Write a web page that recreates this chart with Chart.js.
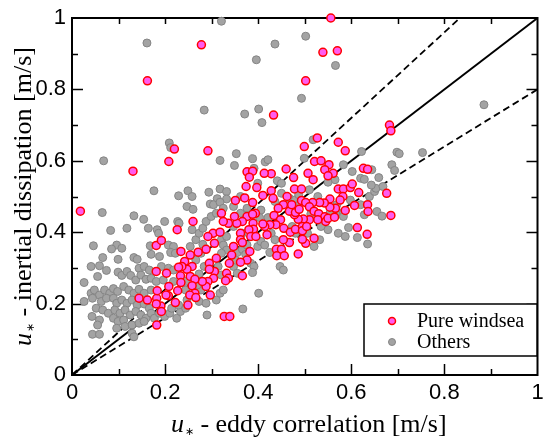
<!DOCTYPE html>
<html>
<head>
<meta charset="utf-8">
<script src="https://cdn.jsdelivr.net/npm/chart.js@4/dist/chart.umd.min.js"></script>
<style>
  html, body { margin: 0; padding: 0; background: #fff; }
  canvas { display: block; }
</style>
</head>
<body>
<canvas id="Chart" width="543" height="443"></canvas>
<script>
// pure windsea cases: eddy correlation (x) vs inertial dissipation (y)
const windseaX = [0.556,0.278,0.539,0.570,0.162,0.502,0.433,0.682,0.685,0.527,0.572,0.499,0.220,0.292,0.587,0.208,0.131,0.018,0.685,0.676,
  0.521,0.535,0.552,0.543,0.561,0.550,0.507,0.518,0.476,0.460,0.428,0.413,0.376,0.388,0.381,0.397,0.374,0.428,0.410,0.432,
  0.462,0.478,0.493,0.493,0.572,0.583,0.598,0.602,0.554,0.582,0.616,0.626,0.635,0.607,0.635,0.636,0.587,0.566,0.554,0.542,
  0.532,0.517,0.502,0.510,0.520,0.530,0.543,0.545,0.528,0.510,0.497,0.486,0.478,0.467,0.454,0.443,0.434,0.448,0.438,0.425,
  0.414,0.410,0.419,0.455,0.469,0.480,0.495,0.495,0.504,0.502,0.495,0.467,0.454,0.439,0.450,0.440,0.456,0.486,0.520,0.550,
  0.613,0.634,0.388,0.394,0.376,0.366,0.354,0.349,0.336,0.325,0.321,0.303,0.351,0.371,0.388,0.389,0.390,0.380,0.384,0.395,
  0.362,0.362,0.366,0.382,0.376,0.362,0.366,0.347,0.343,0.338,0.332,0.336,0.330,0.310,0.306,0.295,0.295,0.304,0.292,0.288,
  0.280,0.297,0.292,0.288,0.306,0.318,0.327,0.339,0.271,0.258,0.254,0.242,0.247,0.236,0.229,0.233,0.234,0.254,0.264,0.258,
  0.264,0.253,0.266,0.249,0.227,0.222,0.208,0.207,0.203,0.202,0.191,0.192,0.182,0.183,0.181,0.182,0.181,0.181,0.192,0.162,
  0.144,0.226,0.260,0.234,0.576,0.564,0.472,0.480,0.488];
const windseaY = [1.000,0.925,0.904,0.908,0.824,0.824,0.728,0.700,0.684,0.664,0.652,0.640,0.633,0.628,0.628,0.598,0.571,0.459,0.447,0.509,
  0.598,0.600,0.589,0.575,0.565,0.558,0.565,0.547,0.553,0.577,0.564,0.565,0.569,0.571,0.554,0.525,0.528,0.516,0.503,0.495,
  0.500,0.521,0.521,0.489,0.521,0.521,0.525,0.535,0.493,0.500,0.511,0.579,0.576,0.475,0.477,0.458,0.461,0.467,0.470,0.482,
  0.483,0.483,0.483,0.471,0.459,0.452,0.443,0.430,0.435,0.435,0.437,0.436,0.449,0.459,0.477,0.467,0.447,0.435,0.421,0.421,
  0.416,0.423,0.393,0.411,0.400,0.408,0.416,0.404,0.416,0.369,0.380,0.371,0.379,0.352,0.352,0.334,0.334,0.339,0.383,0.439,
  0.413,0.394,0.483,0.453,0.444,0.430,0.425,0.444,0.425,0.430,0.453,0.397,0.489,0.496,0.450,0.425,0.408,0.407,0.388,0.388,
  0.397,0.379,0.371,0.346,0.322,0.316,0.278,0.360,0.336,0.313,0.285,0.271,0.264,0.327,0.290,0.313,0.296,0.271,0.262,0.248,
  0.262,0.224,0.388,0.352,0.369,0.400,0.164,0.164,0.344,0.304,0.336,0.318,0.296,0.304,0.302,0.278,0.259,0.276,0.268,0.250,
  0.229,0.224,0.217,0.196,0.236,0.203,0.248,0.222,0.285,0.224,0.193,0.178,0.215,0.236,0.199,0.140,0.290,0.363,0.377,0.210,
  0.215,0.407,0.430,0.346,0.490,0.442,0.477,0.455,0.464];

// other cases
const othersX = [0.321,0.161,0.436,0.502,0.396,0.566,0.493,0.885,0.284,0.401,0.371,0.408,0.209,0.212,0.518,0.622,0.698,0.703,0.753,0.353,
  0.068,0.318,0.349,0.388,0.415,0.421,0.391,0.499,0.602,0.687,0.693,0.644,0.659,0.620,0.628,0.583,0.565,0.550,0.399,0.441,
  0.450,0.294,0.318,0.332,0.332,0.312,0.297,0.304,0.318,0.347,0.362,0.249,0.258,0.229,0.176,0.247,0.260,0.227,0.230,0.199,
  0.133,0.154,0.065,0.118,0.164,0.183,0.186,0.083,0.046,0.096,0.107,0.085,0.168,0.207,0.218,0.212,0.066,0.099,0.133,0.140,
  0.170,0.188,0.222,0.041,0.059,0.074,0.055,0.144,0.155,0.166,0.192,0.207,0.218,0.026,0.099,0.107,0.118,0.126,0.137,0.148,
  0.159,0.170,0.181,0.196,0.218,0.041,0.048,0.059,0.070,0.081,0.089,0.098,0.111,0.122,0.133,0.144,0.155,0.170,0.044,0.063,
  0.074,0.089,0.096,0.107,0.118,0.129,0.140,0.155,0.166,0.026,0.052,0.066,0.078,0.092,0.103,0.114,0.125,0.137,0.148,0.159,
  0.170,0.043,0.059,0.055,0.089,0.099,0.111,0.096,0.114,0.129,0.144,0.044,0.059,0.129,0.133,0.155,0.177,0.188,0.199,0.210,
  0.225,0.214,0.233,0.244,0.229,0.247,0.273,0.290,0.288,0.310,0.318,0.325,0.277,0.244,0.269,0.244,0.273,0.284,0.266,0.277,
  0.254,0.266,0.281,0.273,0.258,0.281,0.288,0.299,0.310,0.325,0.321,0.332,0.325,0.332,0.321,0.314,0.321,0.347,0.355,0.351,
  0.355,0.366,0.373,0.384,0.391,0.388,0.399,0.406,0.376,0.366,0.376,0.362,0.406,0.421,0.403,0.428,0.436,0.414,0.425,0.447,
  0.454,0.401,0.367,0.347,0.436,0.450,0.467,0.480,0.487,0.510,0.528,0.487,0.513,0.535,0.520,0.532,0.480,0.506,0.473,0.550,
  0.554,0.576,0.572,0.587,0.613,0.635,0.598,0.620,0.583,0.594,0.639,0.650,0.653,0.643,0.668,0.655,0.666,0.628,0.569,0.583];
const othersY = [0.991,0.930,0.927,0.949,0.883,0.867,0.775,0.757,0.742,0.745,0.731,0.707,0.650,0.637,0.659,0.626,0.624,0.620,0.623,0.620,
  0.600,0.601,0.587,0.606,0.597,0.603,0.579,0.607,0.570,0.589,0.573,0.575,0.553,0.551,0.548,0.589,0.547,0.540,0.537,0.544,
  0.537,0.512,0.521,0.514,0.493,0.494,0.479,0.477,0.484,0.472,0.500,0.516,0.500,0.502,0.516,0.472,0.464,0.430,0.425,0.430,
  0.446,0.436,0.455,0.411,0.411,0.407,0.397,0.405,0.362,0.364,0.355,0.353,0.362,0.364,0.360,0.343,0.329,0.324,0.329,0.324,
  0.338,0.332,0.341,0.304,0.306,0.293,0.276,0.299,0.304,0.294,0.304,0.299,0.294,0.259,0.288,0.279,0.290,0.279,0.266,0.280,
  0.268,0.271,0.262,0.266,0.262,0.229,0.238,0.224,0.238,0.229,0.242,0.234,0.248,0.238,0.229,0.240,0.229,0.238,0.215,0.206,
  0.215,0.215,0.201,0.210,0.201,0.210,0.196,0.199,0.187,0.206,0.187,0.182,0.173,0.182,0.173,0.182,0.168,0.178,0.168,0.159,
  0.173,0.164,0.154,0.140,0.159,0.150,0.154,0.131,0.136,0.140,0.145,0.114,0.114,0.117,0.107,0.150,0.159,0.173,0.164,0.173,
  0.159,0.187,0.178,0.187,0.196,0.210,0.206,0.168,0.201,0.210,0.229,0.238,0.238,0.238,0.252,0.262,0.283,0.304,0.322,0.341,
  0.360,0.379,0.366,0.397,0.407,0.411,0.430,0.444,0.453,0.467,0.379,0.388,0.364,0.350,0.341,0.304,0.280,0.304,0.285,0.322,
  0.343,0.352,0.338,0.313,0.304,0.287,0.360,0.374,0.364,0.397,0.467,0.453,0.462,0.441,0.441,0.397,0.379,0.364,0.343,0.304,
  0.294,0.229,0.185,0.416,0.486,0.509,0.495,0.491,0.505,0.519,0.500,0.475,0.451,0.416,0.360,0.379,0.397,0.397,0.416,0.407,
  0.453,0.453,0.397,0.388,0.385,0.367,0.490,0.477,0.453,0.413,0.500,0.514,0.523,0.532,0.528,0.458,0.445,0.449,0.477,0.444];

// reference lines through the origin: 1:1 and +/-20 %
const refSlopes = [1, 1.2, 0.8];
const refDashed = [false, true, true];

const xTicks = [0, 0.2, 0.4, 0.6, 0.8, 1];
const yTicks = [0, 0.2, 0.4, 0.6, 0.8, 1];
const seriesNames = ["Pure windsea", "Others"];

const toPoints = (xs, ys) => xs.map((x, i) => ({ x: x, y: ys[i] }));

const refDatasets = refSlopes.map((s, i) => ({
  label: "ref" + i,
  data: [{ x: 0, y: 0 }, { x: Math.min(1, 1 / s), y: Math.min(1, s) }],
  showLine: true,
  pointRadius: 0,
  borderColor: "#000",
  borderWidth: refDashed[i] ? 1.8 : 2,
  borderDash: refDashed[i] ? [7, 4] : [],
  clip: false,
}));

const fmt = (v) => String(Number(v.toFixed(1)));

// frame, inward ticks (major + minor), axis titles, legend
const decorPlugin = {
  id: "decor",
  beforeDatasetsDraw(chart) {
    const { ctx, chartArea: a, scales } = chart;
    ctx.save();
    ctx.strokeStyle = "#000";
    ctx.lineWidth = 2;
    ctx.strokeRect(a.left, a.top, a.right - a.left, a.bottom - a.top);
    ctx.lineWidth = 1.5;
    ctx.beginPath();
    for (let k = 1; k < 10; k++) {
      const v = k / 10;
      const major = k % 2 === 0;
      const len = major ? 11 : 6;
      const px = Math.round(scales.x.getPixelForValue(v)) + 0.5;
      const py = Math.round(scales.y.getPixelForValue(v)) + 0.5;
      ctx.moveTo(px, a.bottom); ctx.lineTo(px, a.bottom - len);
      ctx.moveTo(px, a.top); ctx.lineTo(px, a.top + 6);
      ctx.moveTo(a.left, py); ctx.lineTo(a.left + len, py);
      ctx.moveTo(a.right, py); ctx.lineTo(a.right - len, py);
    }
    ctx.stroke();
    ctx.restore();
  },
  afterDraw(chart) {
    const { ctx, chartArea: a } = chart;
    const serif = '"Liberation Serif", "Times New Roman", serif';
    const drawTitle = (rest, cx, baseY) => {
      ctx.font = "italic 26px " + serif;
      const wu = ctx.measureText("u").width;
      ctx.font = "11px " + serif;
      const ws = ctx.measureText("\u2217").width;
      ctx.font = "26px " + serif;
      const wr = ctx.measureText(rest).width;
      let x = cx - (wu + ws + 1 + wr) / 2;
      ctx.textBaseline = "alphabetic";
      ctx.textAlign = "left";
      ctx.font = "italic 26px " + serif;
      ctx.fillText("u", x, baseY);
      x += wu + 1;
      ctx.font = "11px " + serif;
      ctx.fillText("\u2217", x, baseY + 3);
      x += ws;
      ctx.font = "26px " + serif;
      ctx.fillText(rest, x, baseY);
    };
    ctx.save();
    ctx.fillStyle = "#000";
    drawTitle(" - eddy correlation [m/s]", (a.left + a.right) / 2 + 4, 432);
    ctx.translate(31, (a.top + a.bottom) / 2);
    ctx.rotate(-Math.PI / 2);
    drawTitle(" - inertial dissipation [m/s]", 0, 0);
    ctx.restore();

    // legend box
    ctx.save();
    ctx.fillStyle = "#fff";
    ctx.fillRect(364, 304, 173, 52);
    ctx.strokeStyle = "#000";
    ctx.lineWidth = 1.5;
    ctx.strokeRect(364, 304, 173, 52);
    const sets = chart.data.datasets;
    for (let i = 0; i < 2; i++) {
      const ds = sets[i];
      const cy = 321 + i * 21;
      ctx.beginPath();
      ctx.arc(392, cy, 3.5, 0, Math.PI * 2);
      ctx.fillStyle = ds.backgroundColor;
      ctx.fill();
      ctx.lineWidth = ds.borderWidth;
      ctx.strokeStyle = ds.borderColor;
      ctx.stroke();
      ctx.fillStyle = "#000";
      ctx.font = "20px " + serif;
      ctx.textBaseline = "middle";
      ctx.textAlign = "left";
      ctx.fillText(seriesNames[i], 417, cy + 1);
    }
    ctx.restore();
  },
};

const tickFont = { family: '"Liberation Sans", Arial, sans-serif', size: 22 };

new Chart(document.getElementById("Chart").getContext("2d"), {
  type: "scatter",
  data: {
    datasets: [
      {
        label: seriesNames[0],
        data: toPoints(windseaX, windseaY),
        backgroundColor: "#ff5cf0",
        borderColor: "#ff0000",
        borderWidth: 1.5,
        pointRadius: 4,
        clip: false,
      },
      {
        label: seriesNames[1],
        data: toPoints(othersX, othersY),
        backgroundColor: "#a3a3a3",
        borderColor: "#858585",
        borderWidth: 1,
        pointRadius: 4,
        clip: false,
      },
      ...refDatasets,
    ],
  },
  options: {
    responsive: false,
    animation: false,
    devicePixelRatio: 1,
    layout: { padding: { left: 0, top: 18, right: 2, bottom: 0 } },
    plugins: { legend: { display: false }, tooltip: { enabled: false } },
    scales: {
      x: {
        type: "linear",
        min: 0,
        max: 1,
        afterBuildTicks: (s) => { s.ticks = xTicks.map((v) => ({ value: v })); },
        ticks: { font: tickFont, color: "#000", padding: 5, maxRotation: 0, callback: fmt },
        grid: { display: false, drawTicks: false },
        border: { display: false },
        afterFit: (s) => {
          s.height = 68;
          s.paddingLeft = 0; s.paddingRight = 0;
        },
      },
      y: {
        type: "linear",
        min: 0,
        max: 1,
        afterBuildTicks: (s) => { s.ticks = yTicks.map((v) => ({ value: v })); },
        ticks: { font: tickFont, color: "#000", padding: 6, callback: fmt },
        grid: { display: false, drawTicks: false },
        border: { display: false },
        afterFit: (s) => {
          s.width = 72;
          s.paddingTop = 0; s.paddingBottom = 0;
        },
      },
    },
  },
  plugins: [decorPlugin],
});
</script>
</body>
</html>
